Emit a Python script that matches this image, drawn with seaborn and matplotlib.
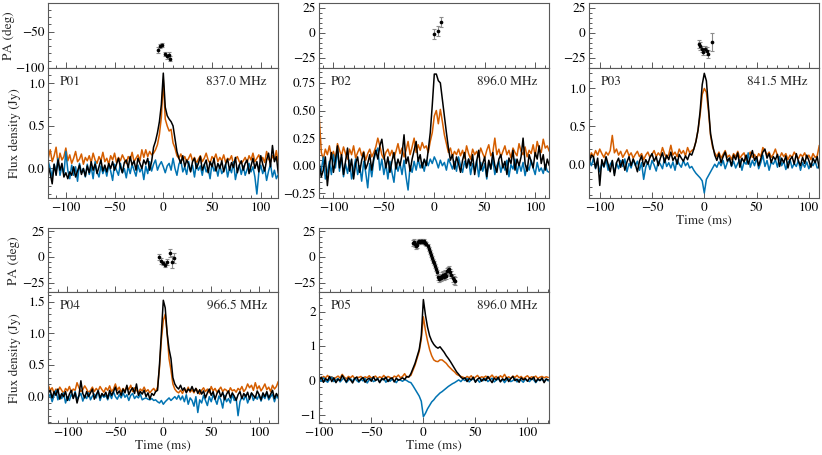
import numpy as np
import matplotlib
matplotlib.use("Agg")
import matplotlib.pyplot as plt
import seaborn as sns
from matplotlib.ticker import MultipleLocator, AutoMinorLocator

sns.set_style("ticks")
plt.rcParams['font.family'] = ['STIXGeneral', 'DejaVu Serif']
plt.rcParams['mathtext.fontset'] = 'stix'
plt.rcParams['font.size'] = 9.5
plt.rcParams['xtick.direction'] = 'in'
plt.rcParams['ytick.direction'] = 'in'

pal = sns.color_palette("colorblind")
c_lin = pal[3]   # linear pol (orange)
c_circ = pal[0]  # circular pol (blue)
c_tot = 'k'      # total intensity
frame = '0.35'

# ---------------- P01 (837.0 MHz) ----------------
t01 = np.arange(-118, 119, 2)
p01_L = [0.12, 0.22, 0.08, 0.15, 0.25, 0.05, 0.18, 0.10, 0.14, 0.24,
         0.09, 0.16, 0.06, 0.12, 0.20, 0.08, 0.11, 0.17, 0.05, 0.13,
         0.09, 0.15, 0.07, 0.18, 0.10, 0.06, 0.14, 0.09, 0.19, 0.08,
         0.12, 0.05, 0.15, 0.10, 0.18, 0.07, 0.13, 0.09, 0.16, 0.11,
         0.06, 0.14, 0.10, 0.19, 0.08, 0.12, 0.16, 0.09, 0.22, 0.13,
         0.22, 0.14, 0.20, 0.16, 0.18, 0.22, 0.28, 0.40, 0.60, 1.04,
         0.58, 0.50, 0.44, 0.46, 0.30, 0.24, 0.15, 0.12, 0.17, 0.10,
         0.14, 0.08, 0.12, 0.17, 0.09, 0.13, 0.06, 0.11, 0.15, 0.08,
         0.12, 0.18, 0.10, 0.06, 0.14, 0.11, 0.17, 0.08, 0.13, 0.09,
         0.16, 0.07, 0.12, 0.10, 0.15, 0.05, 0.11, 0.14, 0.08, 0.06,
         0.09, 0.13, 0.07, 0.15, 0.10, 0.18, 0.08, 0.12, 0.16, 0.09,
         0.13, 0.07, 0.20, 0.11, 0.08, 0.15, 0.10, 0.21, 0.06]
p01_I = [0.02, -0.06, -0.18, 0.05, -0.08, 0.10, -0.02, 0.06, -0.10, -0.05,
         -0.12, -0.04, -0.08, 0.02, -0.10, -0.03, 0.04, -0.07, 0.00, -0.09,
         0.03, -0.05, 0.08, -0.02, 0.05, -0.06, 0.02, 0.10, -0.03, 0.04,
         -0.04, 0.06, 0.00, 0.08, -0.02, 0.05, 0.12, 0.02, -0.05, 0.07,
         0.10, 0.01, 0.14, 0.04, 0.09, -0.02, 0.12, 0.06, 0.00, 0.10,
         0.05, 0.12, -0.02, 0.08, 0.25, 0.32, 0.42, 0.55, 0.75, 1.12,
         0.72, 0.62, 0.58, 0.55, 0.50, 0.35, 0.20, 0.12, 0.06, 0.15,
         0.02, 0.10, 0.05, -0.04, 0.08, 0.12, 0.00, 0.06, 0.14, -0.02,
         0.04, 0.10, -0.05, 0.08, 0.02, 0.12, -0.03, 0.06, 0.00, 0.09,
         -0.04, 0.05, 0.11, -0.02, 0.07, 0.01, 0.13, -0.05, 0.04, 0.09,
         -0.02, 0.06, 0.10, -0.06, 0.03, 0.12, 0.00, 0.08, -0.04, 0.15,
         0.05, -0.03, 0.10, 0.18, 0.02, 0.27, 0.08, 0.14, -0.06]
p01_V = [0.08, 0.00, -0.10, 0.05, -0.04, 0.12, -0.08, 0.03, -0.06, 0.20,
         -0.02, -0.12, 0.04, -0.08, 0.02, -0.15, 0.06, -0.05, 0.00, -0.10,
         0.05, -0.07, 0.02, -0.12, 0.08, -0.04, -0.10, 0.03, -0.06, 0.01,
         -0.09, 0.04, -0.03, -0.14, 0.05, -0.02, -0.08, 0.06, -0.05, 0.00,
         -0.11, 0.03, -0.06, 0.05, -0.02, -0.09, 0.04, -0.04, 0.01, -0.13,
         0.03, -0.06, 0.08, -0.03, 0.05, 0.10, -0.02, 0.04, 0.08, 0.02,
         -0.05, 0.03, 0.06, -0.02, 0.12, 0.00, -0.08, 0.05, 0.10, -0.04,
         0.02, -0.07, 0.08, -0.03, 0.04, -0.10, 0.06, -0.02, 0.03, -0.08,
         0.05, -0.04, 0.00, -0.12, 0.06, -0.03, 0.02, -0.09, 0.04, -0.06,
         -0.02, 0.05, -0.10, 0.01, -0.05, 0.08, -0.13, -0.02, 0.04, -0.07,
         0.03, -0.08, -0.01, 0.06, -0.04, 0.02, -0.10, -0.30, -0.05, 0.04,
         -0.06, 0.01, -0.14, -0.03, 0.05, -0.10, -0.02, -0.12, -0.07]
pa01_t = [-5, -3, -1, 2, 4, 6, 7]
pa01 = [-75, -70, -68, -81, -84, -82, -87]
pa01_err = [4, 3, 3, 3, 3, 4, 4]

# ---------------- P02 (896.0 MHz) ----------------
t02 = np.arange(-114, 115, 2)
p02_L = [0.43, 0.12, 0.06, 0.15, 0.10, 0.18, 0.08, 0.13, 0.05, 0.20,
         0.14, 0.09, 0.17, 0.11, 0.06, 0.15, 0.10, 0.18, 0.07, 0.12,
         0.16, 0.09, 0.13, 0.05, 0.11, 0.15, 0.08, 0.12, 0.17, 0.25,
         0.18, 0.10, 0.06, 0.12, 0.15, 0.09, 0.14, 0.07, 0.13, 0.20,
         0.11, 0.16, 0.08, 0.14, 0.22, 0.10, 0.17, 0.25, 0.12, 0.19,
         0.14, 0.21, 0.16, 0.18, 0.12, 0.22, 0.30, 0.45, 0.50, 0.38,
         0.51, 0.40, 0.28, 0.20, 0.12, 0.16, 0.08, 0.13, 0.10, 0.15,
         0.09, 0.14, 0.07, 0.18, 0.11, 0.06, 0.15, 0.10, 0.13, 0.08,
         0.16, 0.11, 0.07, 0.14, 0.19, 0.09, 0.12, 0.25, 0.10, 0.15,
         0.08, 0.13, 0.18, 0.10, 0.14, 0.07, 0.16, 0.12, 0.09, 0.20,
         0.13, 0.10, 0.17, 0.08, 0.14, 0.11, 0.19, 0.09, 0.22, 0.15,
         0.12, 0.24, 0.16, 0.18, 0.13]
p02_I = [0.02, -0.10, -0.04, 0.08, -0.18, 0.00, 0.12, -0.06, 0.05, 0.18,
         -0.02, 0.10, -0.08, 0.04, 0.16, -0.05, 0.06, -0.12, 0.02, 0.08,
         -0.06, 0.05, 0.12, -0.03, 0.02, 0.10, -0.04, 0.07, 0.14, 0.06,
         0.18, 0.24, 0.10, -0.02, 0.08, -0.06, 0.04, 0.12, -0.03, 0.06,
         0.00, 0.10, 0.28, 0.02, 0.08, -0.05, 0.06, 0.14, 0.22, 0.04,
         0.10, -0.02, 0.06, 0.00, 0.14, 0.30, 0.55, 0.83, 0.83, 0.77,
         0.75, 0.60, 0.45, 0.30, 0.16, 0.05, 0.10, -0.03, 0.08, 0.02,
         -0.06, 0.05, 0.12, -0.02, 0.06, 0.00, 0.10, -0.08, 0.04, 0.14,
         -0.04, 0.02, 0.08, -0.10, 0.05, -0.03, 0.12, 0.00, -0.06, 0.06,
         0.10, -0.02, 0.04, -0.08, 0.07, 0.02, 0.14, -0.04, 0.06, 0.00,
         0.08, 0.25, 0.02, -0.05, 0.10, 0.04, -0.02, 0.12, 0.06, 0.18,
         0.02, 0.10, -0.04, 0.06, 0.00]
p02_V = [-0.10, -0.04, 0.08, -0.12, -0.06, 0.04, -0.08, 0.10, -0.02, 0.15,
         -0.05, 0.08, -0.10, 0.02, -0.07, 0.05, -0.12, -0.03, 0.06, -0.08,
         0.00, -0.14, 0.04, -0.06, -0.20, 0.02, -0.10, 0.05, 0.12, 0.16,
         -0.04, 0.06, -0.08, 0.02, -0.12, 0.04, -0.06, -0.15, 0.03, -0.05,
         0.02, -0.08, 0.05, -0.10, -0.22, 0.00, -0.06, 0.04, -0.04, 0.06,
         -0.02, 0.03, -0.05, 0.05, 0.00, 0.06, 0.02, 0.08, 0.04, -0.02,
         0.05, 0.00, 0.03, -0.04, 0.06, 0.02, -0.03, 0.04, -0.05, 0.08,
         0.00, -0.06, 0.04, -0.02, 0.06, -0.08, 0.02, -0.04, 0.05, -0.10,
         0.03, -0.05, 0.02, -0.12, 0.04, -0.03, 0.06, -0.08, 0.00, 0.04,
         -0.06, 0.02, -0.04, 0.05, -0.10, 0.01, -0.03, 0.06, -0.07, 0.02,
         -0.05, 0.03, -0.09, 0.00, -0.04, 0.05, -0.02, -0.08, 0.03, -0.05,
         -0.02, -0.07, 0.01, -0.05, -0.06]
pa02_t = [0, 4, 7]
pa02 = [-1, 2, 11]
pa02_err = [5, 5, 5]

# ---------------- P03 (841.5 MHz) ----------------
t03 = np.arange(-110, 111, 2)
p03_L = [0.05, 0.15, 0.10, 0.18, 0.12, 0.20, 0.14, 0.09, 0.16, 0.12,
         0.18, 0.38, 0.15, 0.20, 0.12, 0.17, 0.09, 0.14, 0.19, 0.11,
         0.15, 0.08, 0.13, 0.17, 0.10, 0.14, 0.06, 0.12, 0.16, 0.09,
         0.13, 0.18, 0.10, 0.15, 0.11, 0.22, 0.14, 0.08, 0.13, 0.25,
         0.12, 0.16, 0.10, 0.20, 0.14, 0.18, 0.11, 0.22, 0.15, 0.18,
         0.20, 0.30, 0.45, 0.65, 0.92, 1.00, 0.95, 0.70, 0.38, 0.22,
         0.15, 0.10, 0.16, 0.08, 0.13, 0.18, 0.09, 0.12, 0.06, 0.14,
         0.10, 0.17, 0.08, 0.12, 0.15, 0.05, 0.11, 0.16, 0.09, 0.13,
         0.07, 0.14, 0.10, 0.22, 0.18, 0.12, 0.16, 0.09, 0.13, 0.20,
         0.11, 0.08, 0.15, 0.10, 0.14, 0.06, 0.12, 0.09, 0.16, 0.11,
         0.07, 0.13, 0.10, 0.15, 0.08, 0.12, 0.06, 0.14, 0.09, 0.11, 0.25]
p03_I = [0.02, 0.12, 0.10, -0.05, 0.08, -0.28, 0.06, -0.03, 0.10, 0.00,
         -0.10, 0.05, -0.15, 0.02, 0.08, -0.04, 0.06, -0.08, 0.03, 0.10,
         -0.02, 0.07, 0.00, -0.10, 0.04, 0.11, -0.03, 0.06, 0.00, 0.09,
         0.14, 0.04, 0.10, -0.02, 0.08, 0.15, 0.02, 0.12, 0.06, 0.16,
         0.05, 0.10, 0.00, 0.13, 0.08, 0.04, 0.11, 0.06, 0.14, 0.12,
         0.20, 0.30, 0.45, 0.70, 1.05, 1.20, 1.10, 0.75, 0.40, 0.25,
         0.12, 0.05, 0.14, 0.02, 0.10, 0.16, 0.04, 0.08, -0.02, 0.12,
         0.06, 0.15, -0.04, 0.08, 0.03, 0.12, 0.00, 0.09, 0.18, 0.05,
         0.10, -0.02, 0.07, 0.16, 0.20, 0.08, 0.14, 0.02, 0.10, 0.06,
         0.13, -0.03, 0.08, 0.02, 0.11, -0.05, 0.06, 0.10, 0.00, 0.14,
         0.04, -0.02, 0.09, 0.01, 0.12, 0.05, -0.04, 0.08, 0.02, 0.10, -0.06]
p03_V = [0.05, -0.02, 0.08, -0.06, 0.03, -0.10, 0.01, -0.04, 0.06, -0.08,
         0.00, 0.04, -0.12, 0.02, -0.06, 0.05, -0.03, 0.07, -0.10, 0.01,
         -0.05, 0.06, -0.02, 0.04, -0.08, 0.02, -0.20, -0.04, 0.03, -0.07,
         0.05, -0.01, -0.09, 0.04, 0.00, -0.06, 0.08, -0.03, 0.02, -0.05,
         0.03, -0.08, 0.06, 0.00, -0.04, 0.05, -0.02, 0.02, -0.05, -0.03,
         -0.08, -0.12, -0.15, -0.18, -0.22, -0.38, -0.20, -0.15, -0.10, -0.05,
         0.00, -0.04, 0.03, -0.02, 0.05, -0.06, 0.02, 0.08, -0.03, 0.04,
         -0.05, 0.01, 0.06, -0.08, 0.03, 0.00, 0.15, -0.04, 0.05, -0.02,
         0.08, -0.06, 0.02, 0.12, -0.03, 0.05, -0.08, 0.03, 0.00, 0.06,
         -0.04, 0.10, -0.02, 0.04, -0.07, 0.02, 0.06, -0.05, 0.01, -0.03,
         0.05, -0.08, 0.02, -0.04, 0.03, -0.06, 0.01, -0.02, 0.04, -0.05, -0.03]
pa03_t = [-5, -4, -2, -1, 1, 3, 4, 7]
pa03 = [-11, -13, -16, -19, -16, -18, -21, -9]
pa03_err = [4, 4, 3, 3, 3, 4, 4, 9]

# ---------------- P04 (966.5 MHz) ----------------
t04 = np.arange(-120, 121, 2)
p04_L = [0.18, 0.10, 0.14, 0.06, 0.12, 0.08, 0.15, 0.10, 0.05, 0.13,
         0.09, 0.16, 0.07, 0.12, 0.10, 0.22, 0.14, 0.08, 0.11, 0.17,
         0.12, 0.06, 0.10, 0.15, 0.08, 0.13, 0.09, 0.16, 0.11, 0.07,
         0.14, 0.10, 0.17, 0.08, 0.12, 0.20, 0.10, 0.15, 0.07, 0.13,
         0.09, 0.16, 0.11, 0.18, 0.08, 0.14, 0.10, 0.06, 0.12, 0.09,
         0.15, 0.08, 0.11, 0.06, 0.10, 0.13, 0.08, 0.15, 0.45, 0.90,
         1.20, 1.30, 1.00, 0.60, 0.42, 0.20, 0.12, 0.08, 0.06, 0.10,
         0.05, 0.12, 0.08, 0.15, 0.07, 0.11, 0.06, 0.13, 0.09, 0.04,
         0.10, 0.14, 0.08, 0.12, 0.06, 0.16, 0.09, 0.13, 0.07, 0.11,
         0.15, 0.08, 0.12, 0.10, 0.06, 0.14, 0.09, 0.11, 0.07, 0.13,
         0.10, 0.16, 0.08, 0.12, 0.20, 0.14, 0.18, 0.10, 0.22, 0.12,
         0.17, 0.09, 0.14, 0.20, 0.11, 0.15, 0.08, 0.18, 0.12, 0.16, 0.24]
p04_I = [0.06, 0.10, -0.02, 0.08, 0.02, 0.12, -0.04, 0.05, 0.00, 0.08,
         -0.06, 0.04, 0.10, -0.03, 0.06, -0.10, 0.02, 0.25, 0.05, -0.02,
         0.08, 0.00, 0.06, 0.12, -0.04, 0.03, 0.09, -0.02, 0.05, 0.01,
         0.07, -0.03, 0.10, 0.02, 0.08, 0.15, 0.04, 0.09, 0.02, 0.12,
         0.06, 0.18, 0.03, 0.10, 0.14, 0.05, 0.20, 0.02, 0.08, 0.04,
         0.10, 0.00, 0.06, -0.04, 0.05, 0.02, 0.08, 0.10, 0.50, 1.00,
         1.52, 1.40, 1.00, 0.75, 0.60, 0.30, 0.20, 0.15, 0.12, 0.18,
         0.10, 0.14, 0.06, 0.12, 0.09, 0.16, 0.08, 0.13, 0.05, 0.11,
         0.04, 0.09, -0.02, 0.06, 0.12, 0.02, 0.08, -0.04, 0.05, 0.10,
         0.00, 0.07, -0.05, 0.04, 0.09, -0.02, 0.06, 0.01, -0.06, 0.03,
         0.08, -0.03, 0.05, 0.00, 0.07, -0.04, 0.06, 0.02, -0.02, 0.09,
         0.03, -0.05, 0.06, 0.00, 0.08, -0.02, 0.04, 0.10, -0.03, 0.05, 0.00]
p04_V = [-0.02, 0.04, -0.08, 0.02, 0.10, -0.05, 0.03, -0.03, 0.06, -0.10,
         0.00, -0.06, 0.04, -0.02, 0.08, -0.04, 0.01, 0.05, -0.07, 0.02,
         -0.03, 0.06, -0.05, 0.01, 0.04, -0.02, 0.10, -0.06, 0.03, -0.01,
         0.02, -0.05, 0.05, -0.03, 0.08, 0.00, -0.04, 0.03, -0.02, 0.06,
         -0.01, 0.03, -0.06, 0.02, 0.05, -0.03, 0.01, -0.02, 0.04, -0.05,
         -0.03, -0.02, -0.04, -0.05, -0.03, -0.06, -0.05, -0.08, -0.10, -0.06,
         -0.12, -0.08, -0.05, -0.02, -0.06, -0.03, 0.00, -0.04, 0.02, -0.05,
         0.01, -0.08, 0.03, -0.12, -0.02, -0.06, -0.15, 0.00, -0.25, -0.05,
         -0.10, 0.02, -0.06, -0.14, 0.00, -0.08, 0.03, -0.04, -0.12, 0.01,
         -0.05, -0.18, 0.02, -0.08, -0.03, -0.10, 0.04, -0.06, -0.02, -0.30,
         -0.08, 0.00, -0.05, 0.03, -0.10, -0.02, 0.05, -0.06, 0.01, -0.04,
         0.03, -0.07, 0.02, -0.03, 0.06, -0.05, 0.00, 0.04, -0.08, 0.02, -0.03]
pa04_t = [-4, -2, 0, 2, 4, 7, 9, 11]
pa04 = [0, -4, -6, -8, -5, 4, -5, -1]
pa04_err = [3, 3, 2, 2, 3, 4, 6, 5]

# ---------------- P05 (896.0 MHz) ----------------
t05 = np.arange(-100, 121, 2)
p05_L = [0.10, 0.05, 0.12, 0.08, 0.15, 0.06, 0.11, 0.04, 0.09, 0.13,
         0.07, 0.18, 0.10, 0.05, 0.12, 0.08, 0.14, 0.06, 0.10, 0.09,
         0.12, 0.05, 0.11, 0.08, 0.14, 0.07, 0.10, 0.13, 0.06, 0.11,
         0.08, 0.15, 0.06, 0.12, 0.09, 0.05, 0.13, 0.10, 0.16, 0.08,
         0.12, 0.20, 0.09, 0.12, 0.15, 0.30, 0.45, 0.65, 0.85, 1.20,
         1.85, 1.45, 1.15, 0.90, 0.72, 0.60, 0.56, 0.55, 0.60, 0.60,
         0.55, 0.50, 0.42, 0.36, 0.30, 0.25, 0.18, 0.15, 0.12, 0.10,
         0.06, 0.12, 0.08, 0.14, 0.05, 0.10, 0.15, 0.07, 0.11, 0.09,
         0.13, 0.06, 0.10, 0.16, 0.08, 0.12, 0.05, 0.14, 0.09, 0.18,
         0.07, 0.11, 0.06, 0.13, 0.09, 0.15, 0.08, 0.12, 0.05, 0.10,
         0.14, 0.07, 0.11, 0.09, 0.13, 0.06, 0.10, 0.12, 0.08, 0.11, 0.09]
p05_I = [0.02, 0.10, -0.05, 0.06, 0.00, 0.12, -0.03, 0.08, -0.06, 0.04,
         0.00, 0.15, 0.05, -0.04, 0.08, 0.02, -0.07, 0.06, 0.10, -0.02,
         0.04, 0.09, -0.05, 0.03, 0.07, -0.02, 0.11, 0.00, 0.05, -0.06,
         0.06, 0.02, 0.10, -0.03, 0.05, 0.08, -0.04, 0.07, 0.01, 0.04,
         0.08, 0.03, 0.12, 0.10, 0.20, 0.35, 0.50, 0.70, 0.90, 1.30,
         2.35, 1.90, 1.55, 1.30, 1.15, 1.05, 0.98, 0.94, 0.98, 0.90,
         0.82, 0.72, 0.64, 0.55, 0.45, 0.35, 0.25, 0.18, 0.10, 0.05,
         0.08, -0.03, 0.06, 0.02, 0.10, -0.05, 0.04, 0.08, -0.02, 0.06,
         0.00, 0.12, 0.03, -0.06, 0.07, 0.02, 0.10, -0.04, 0.05, 0.01,
         0.09, -0.03, 0.06, 0.12, 0.00, 0.04, -0.05, 0.08, 0.02, 0.06,
         -0.02, 0.07, 0.03, 0.10, -0.04, 0.05, 0.00, 0.08, -0.06, 0.04, 0.02]
p05_V = [0.05, -0.02, 0.08, 0.00, -0.05, 0.04, 0.10, -0.03, 0.02, 0.06,
         -0.04, 0.03, 0.08, -0.06, 0.01, 0.05, -0.02, 0.07, 0.00, -0.05,
         0.04, -0.01, 0.06, -0.07, 0.02, 0.05, -0.03, 0.00, 0.07, -0.04,
         0.02, 0.06, -0.05, 0.03, -0.02, 0.04, 0.00, -0.06, 0.03, 0.01,
         -0.02, 0.03, 0.00, -0.04, -0.06, -0.15, -0.25, -0.35, -0.45, -0.60,
         -1.05, -0.95, -0.82, -0.72, -0.62, -0.56, -0.48, -0.42, -0.36, -0.32,
         -0.27, -0.22, -0.17, -0.13, -0.09, -0.06, -0.02, 0.02, -0.03, 0.04,
         0.00, 0.06, -0.04, 0.02, 0.05, -0.02, 0.03, -0.05, 0.04, 0.00,
         0.06, -0.03, 0.02, 0.07, -0.04, 0.01, 0.05, -0.02, 0.03, -0.06,
         0.02, 0.05, -0.03, 0.00, 0.06, -0.04, 0.03, 0.01, -0.05, 0.04,
         0.00, -0.03, 0.05, 0.02, -0.06, 0.03, 0.00, 0.04, -0.02, 0.05, -0.01]
pa05_t = np.arange(-10, 31, 1)
pa05 = [14, 15, 13, 11, 12, 15, 16, 15, 16, 16,
        15, 16, 14, 13, 11, 8, 5, 2, -1, -4,
        -6, -9, -12, -15, -19, -21, -19, -20, -18, -17,
        -19, -16, -18, -14, -13, -12, -15, -17, -20, -22, -23]
pa05_err = [3, 3, 3, 3, 3, 2, 2, 2, 2, 2,
            2, 2, 2, 2, 2, 2, 2, 2, 2, 2,
            2, 2, 2, 2, 3, 3, 3, 3, 3, 3,
            3, 3, 3, 3, 3, 3, 3, 3, 4, 4, 4]

panels = [
    dict(name='P01', freq='837.0 MHz', t=t01, L=p01_L, I=p01_I, V=p01_V,
         pat=pa01_t, pa=pa01, pae=pa01_err, xlim=(-118, 118), ylim=(-0.35, 1.18),
         palim=(-100, -10), ymaj=0.5, pamaj=50, col=0, row=0),
    dict(name='P02', freq='896.0 MHz', t=t02, L=p02_L, I=p02_I, V=p02_V,
         pat=pa02_t, pa=pa02, pae=pa02_err, xlim=(-114, 114), ylim=(-0.295, 0.885),
         palim=(-35, 30), ymaj=0.25, pamaj=25, col=1, row=0),
    dict(name='P03', freq='841.5 MHz', t=t03, L=p03_L, I=p03_I, V=p03_V,
         pat=pa03_t, pa=pa03, pae=pa03_err, xlim=(-110, 110), ylim=(-0.45, 1.27),
         palim=(-35, 30), ymaj=0.5, pamaj=25, col=2, row=0),
    dict(name='P04', freq='966.5 MHz', t=t04, L=p04_L, I=p04_I, V=p04_V,
         pat=pa04_t, pa=pa04, pae=pa04_err, xlim=(-120, 120), ylim=(-0.42, 1.65),
         palim=(-34, 28), ymaj=0.5, pamaj=25, col=0, row=1),
    dict(name='P05', freq='896.0 MHz', t=t05, L=p05_L, I=p05_I, V=p05_V,
         pat=pa05_t, pa=pa05, pae=pa05_err, xlim=(-100, 121), ylim=(-1.24, 2.57),
         palim=(-34, 28), ymaj=1, pamaj=25, col=1, row=1),
]

W, H = 822, 455
col_left = [48.3, 319.3, 589.3]
col_w = 230
# (top of PA panel, PA/flux boundary, bottom of flux panel) in pixels
rows_px = [(2.7, 68.0, 198.3), (228.3, 292.0, 423.3)]

fig = plt.figure(figsize=(W / 100, H / 100), dpi=100)


def style_axis(ax):
    for s in ax.spines.values():
        s.set_color(frame)
        s.set_linewidth(0.8)
    ax.tick_params(which='both', colors=frame, labelcolor='k', width=0.7, pad=2.5)
    ax.tick_params(which='major', length=4)
    ax.tick_params(which='minor', length=2)


for p in panels:
    top, mid, bot = rows_px[p['row']]
    x0 = col_left[p['col']] / W
    ax_pa = fig.add_axes([x0, 1 - mid / H, col_w / W, (mid - top) / H])
    ax_fl = fig.add_axes([x0, 1 - bot / H, col_w / W, (bot - mid) / H], sharex=ax_pa)

    # flux profiles
    sns.lineplot(x=p['t'], y=p['L'], ax=ax_fl, color=c_lin, lw=1.1, estimator=None)
    sns.lineplot(x=p['t'], y=p['V'], ax=ax_fl, color=c_circ, lw=1.1, estimator=None)
    sns.lineplot(x=p['t'], y=p['I'], ax=ax_fl, color=c_tot, lw=1.1, estimator=None)

    # polarisation position angle
    ax_pa.errorbar(p['pat'], p['pa'], yerr=p['pae'], fmt='none', ecolor='0.55',
                   elinewidth=0.8, capsize=1.5, capthick=0.8)
    sns.scatterplot(x=p['pat'], y=p['pa'], ax=ax_pa, color='k', s=7,
                    linewidth=0, zorder=3)

    ax_fl.set_xlim(*p['xlim'])
    ax_fl.set_ylim(*p['ylim'])
    ax_pa.set_ylim(*p['palim'])

    ax_fl.xaxis.set_major_locator(MultipleLocator(50))
    ax_fl.xaxis.set_minor_locator(MultipleLocator(10))
    ax_fl.yaxis.set_major_locator(MultipleLocator(p['ymaj']))
    ax_fl.yaxis.set_minor_locator(AutoMinorLocator())
    ax_pa.yaxis.set_major_locator(MultipleLocator(p['pamaj']))
    ax_pa.yaxis.set_minor_locator(AutoMinorLocator())

    ax_pa.tick_params(axis='x', which='both', labelbottom=False)
    style_axis(ax_pa)
    style_axis(ax_fl)
    ax_fl.set_xlabel('')
    ax_fl.set_ylabel('')
    ax_pa.set_ylabel('')

    ax_fl.text(0.05, 0.94, p['name'], transform=ax_fl.transAxes, ha='left', va='top')
    ax_fl.text(0.95, 0.94, p['freq'], transform=ax_fl.transAxes, ha='right', va='top')

    if p['col'] == 0:
        ax_pa.set_ylabel('PA (deg)')
        ax_fl.set_ylabel('Flux density (Jy)')
        # label coords give the right-hand edge of the rotated text
        pa_x = -0.145 if p['row'] == 0 else -0.123
        ax_pa.yaxis.set_label_coords(pa_x, 0.5)
        ax_fl.yaxis.set_label_coords(-0.12, 0.5)
    if p['name'] in ('P03', 'P04', 'P05'):
        ax_fl.set_xlabel('Time (ms)', labelpad=1)

fig.savefig('out.png', dpi=100)
